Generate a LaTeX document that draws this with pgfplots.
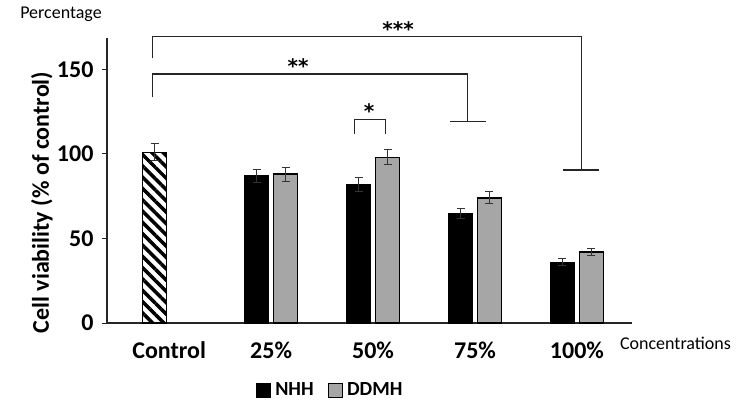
\documentclass[border=0pt]{standalone}
\usepackage{fontspec}
\setmainfont{Carlito}
\newfontfamily\starfont{DejaVu Sans}
\usepackage{pgfplots}
\pgfplotsset{compat=1.18}
\usetikzlibrary{patterns.meta}
\definecolor{barGrey}{HTML}{A6A6A6}
\begin{document}
\begin{tikzpicture}
\path[use as bounding box] (0,0) rectangle (744pt,408pt);
\begin{axis}[
  at={(107pt,85pt)}, anchor=south west,
  scale only axis, width=525pt, height=285pt,
  xmin=-0.61, xmax=4.54, ymin=0, ymax=168.6,
  axis x line*=bottom, axis y line*=left,
  axis line style={-, line width=1.3pt, black!85},
  clip=false,
  xtick={0,1,2,3,4},
  xticklabels={Control,25\%,50\%,75\%,100\%},
  x tick style={draw=none},
  xticklabel style={font=\bfseries\fontsize{24}{26}\selectfont, yshift=-10pt},
  ytick={0,50,100,150},
  y tick style={line width=1pt, black!85},
  tick align=outside, major tick length=5pt,
  yticklabel style={font=\bfseries\fontsize{24}{26}\selectfont, xshift=-5pt},
  /pgf/number format/assume math mode=true,
  ylabel={\bfseries Cell viability (\% of control)},
  ylabel style={font=\bfseries\fontsize{24}{26}\selectfont, at={(axis description cs:-0.124,0.423)}, anchor=center},
  legend style={at={(0.425,-0.235)}, anchor=center, legend columns=2, draw=none, fill=none,
    font=\bfseries\fontsize{20}{22}\selectfont,
    /tikz/every even column/.append style={column sep=12pt}},
  legend image code/.code={\draw[#1, line width=0.8pt] (0pt,-7pt) rectangle (14pt,7pt); \path[draw=none, fill=none, pattern=none] (0pt,0pt) -- (17pt,0pt);},
  error bars/error bar style={line width=1pt, black!80},
  error bars/error mark options={line width=1pt, black!80, mark size=4pt, rotate=90},
]
\addplot[ybar, bar width=24pt, bar shift=0pt, draw=black, line width=1.5pt,
  pattern={Lines[angle=-45,distance=8pt,line width=3.5pt]}, forget plot,
  error bars/.cd, y dir=both, y explicit]
  coordinates {(-0.142,101) +- (0,5)};
\addplot[ybar, bar width=24pt, bar shift=0pt, draw=black, fill=black, line width=1pt,
  error bars/.cd, y dir=both, y explicit]
  coordinates {(0.858,87) +- (0,4) (1.858,82) +- (0,4) (2.858,65) +- (0,3) (3.858,36) +- (0,2)};
\addplot[ybar, bar width=24pt, bar shift=0pt, draw=black, fill=barGrey, line width=1.5pt,
  error bars/.cd, y dir=both, y explicit]
  coordinates {(1.142,88) +- (0,4) (2.142,98) +- (0,4.5) (3.142,74) +- (0,3.5) (4.142,42) +- (0,2)};
\legend{NHH,DDMH}
% significance brackets
\draw[line width=1.2pt, black!85] (axis cs:-0.16,156.6) -- (axis cs:-0.16,169.4) -- (axis cs:4.046,169.4) -- (axis cs:4.046,90.5);
\draw[line width=1.2pt, black!85] (axis cs:3.863,90.5) -- (axis cs:4.216,90.5);
\draw[line width=1.2pt, black!85] (axis cs:-0.16,133.9) -- (axis cs:-0.16,147.3) -- (axis cs:2.93,147.3) -- (axis cs:2.93,119);
\draw[line width=1.2pt, black!85] (axis cs:2.755,119) -- (axis cs:3.105,119);
\draw[line width=1.2pt, black!85] (axis cs:1.82,111.8) -- (axis cs:1.82,120.5) -- (axis cs:2.118,120.5) -- (axis cs:2.118,111.8);
\node[font=\starfont\bfseries\fontsize{20}{22}\selectfont] at (axis cs:2.245,174) {***};
\node[font=\starfont\bfseries\fontsize{20}{22}\selectfont] at (axis cs:1.265,152) {**};
\node[font=\starfont\bfseries\fontsize{20}{22}\selectfont] at (axis cs:1.96,125.5) {*};
\end{axis}
\node[font=\fontsize{18}{20}\selectfont] at (61pt,394pt) {Percentage};
\node[font=\fontsize{18}{20}\selectfont] at (675.5pt,65pt) {Concentrations};
\end{tikzpicture}
\end{document}
